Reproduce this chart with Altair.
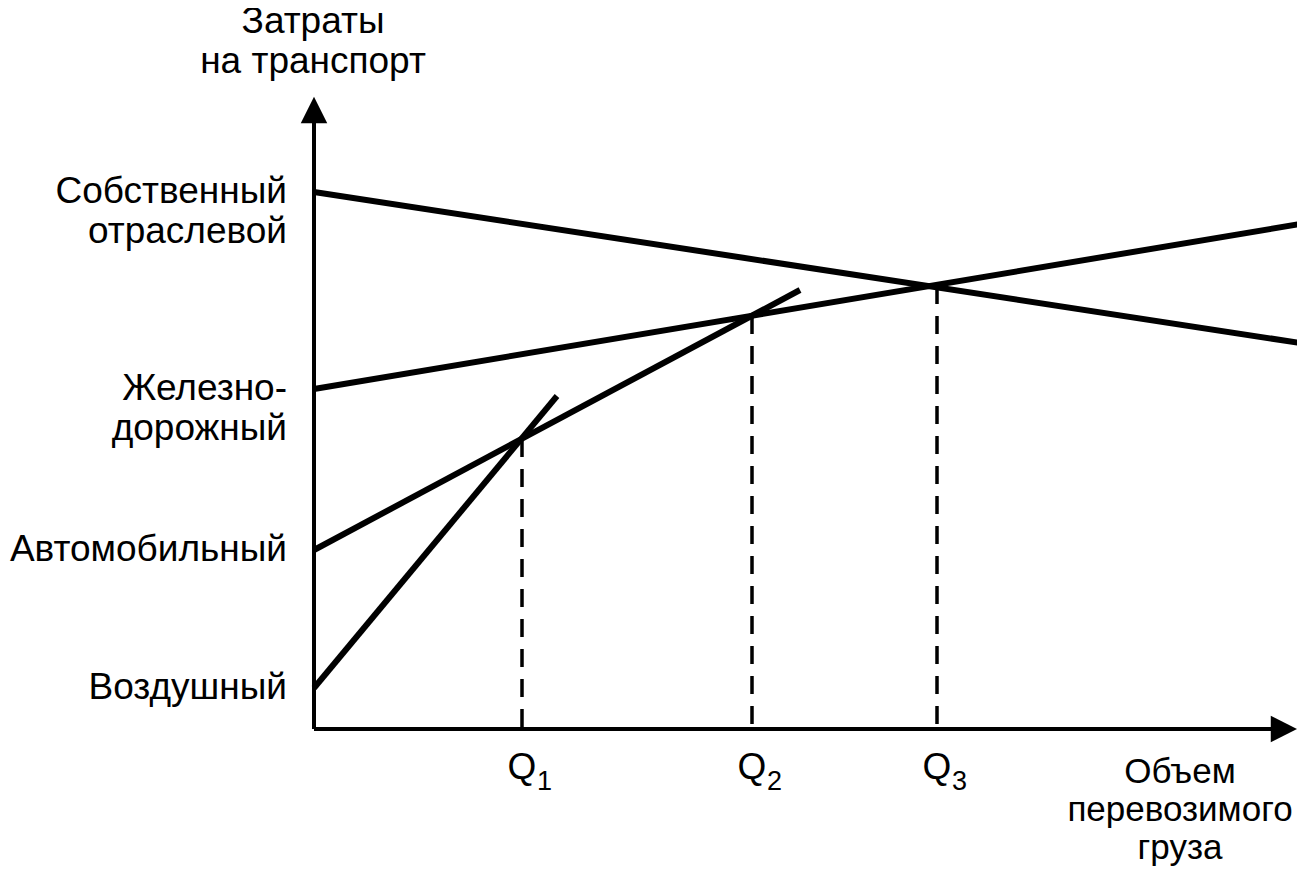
import altair as alt
import pandas as pd

# ---- data (arbitrary units) ----
series = ["Собственный отраслевой", "Железнодорожный", "Автомобильный", "Воздушный"]
series_labels = ["Собственный\nотраслевой", "Железно-\nдорожный", "Автомобильный", "Воздушный"]
x_start = [0.0, 0.0, 0.0, 0.0]
y_start = [53.7, 34.0, 17.9, 4.1]
x_end = [98.6, 98.6, 48.6, 24.3]
y_end = [38.6, 50.5, 43.9, 33.3]

q_names = ["Q", "Q", "Q"]
q_subs = ["1", "2", "3"]
q_x = [20.8, 43.8, 62.3]
q_cost = [29.0, 41.3, 44.3]

y_title = "Затраты\nна транспорт"
x_title = "Объем\nперевозимого\nгруза"

y_axis_top = 60.7   # base of the y arrow head
y_arrow = 61.9
x_axis_end = 96.0   # base of the x arrow head
x_arrow = 97.0

FONT = "Liberation Sans"

# ---- tables ----
lines_df = pd.DataFrame({
    "series": series + series,
    "x": x_start + x_end,
    "y": y_start + y_end,
})
labels_df = pd.DataFrame({"label": series_labels, "y": y_start})
q_df = pd.DataFrame({"q": q_names, "sub": q_subs, "x": q_x, "cost": q_cost,
                     "base": [0.0] * len(q_x)})
one = pd.DataFrame({"k": [0]})

xs = alt.Scale(domain=[-30.6, 98.3], nice=False, zero=False)
ys = alt.Scale(domain=[-14.1, 72.1], nice=False, zero=False)


def X(f):
    return alt.X(f, type="quantitative", scale=xs, axis=None)


def Y(f):
    return alt.Y(f, type="quantitative", scale=ys, axis=None)


lines = alt.Chart(lines_df).mark_line(color="black", strokeWidth=6).encode(
    x=X("x"), y=Y("y"), detail="series:N"
)

dashes = alt.Chart(q_df).mark_rule(color="black", strokeWidth=3.5, strokeDash=[18, 12]).encode(
    x=X("x"), y=Y("cost"), y2="base"
)

y_axis = alt.Chart(one).mark_rule(color="black", strokeWidth=4).encode(
    x=alt.X(datum=0, scale=xs, axis=None),
    y=alt.Y(datum=0, scale=ys, axis=None),
    y2=alt.Y2(datum=y_axis_top),
)
x_axis = alt.Chart(one).mark_rule(color="black", strokeWidth=4).encode(
    x=alt.X(datum=0, scale=xs, axis=None),
    x2=alt.X2(datum=x_axis_end),
    y=alt.Y(datum=0, scale=ys, axis=None),
)

y_head = alt.Chart(one).mark_point(
    shape="M0,-1L-1,1L1,1Z", filled=True, color="black", opacity=1, size=700, strokeWidth=0
).encode(
    x=alt.X(datum=0, scale=xs, axis=None),
    y=alt.Y(datum=y_arrow, scale=ys, axis=None),
)
x_head = alt.Chart(one).mark_point(
    shape="M1,0L-1,-1L-1,1Z", filled=True, color="black", opacity=1, size=700, strokeWidth=0
).encode(
    x=alt.X(datum=x_arrow, scale=xs, axis=None),
    y=alt.Y(datum=0, scale=ys, axis=None),
)

cat_labels = alt.Chart(labels_df).mark_text(
    font=FONT, fontSize=37, align="right", baseline="middle", lineBreak="\n",
    lineHeight=40, color="black"
).encode(
    x=alt.X(datum=-2.7, scale=xs, axis=None),
    y=Y("y"),
    text="label:N",
)

q_text = alt.Chart(q_df).mark_text(
    font=FONT, fontSize=37, align="center", baseline="alphabetic", dy=50, color="black"
).encode(
    x=X("x"), y=Y("base"), text="q:N"
)
q_sub_text = alt.Chart(q_df).mark_text(
    font=FONT, fontSize=27, align="left", baseline="alphabetic", dx=15, dy=61, color="black"
).encode(
    x=X("x"), y=Y("base"), text="sub:N"
)

y_title_t = alt.Chart(one).mark_text(
    font=FONT, fontSize=37, align="center", baseline="alphabetic", lineBreak="\n",
    lineHeight=40, color="black"
).encode(
    x=alt.X(datum=-0.1, scale=xs, axis=None),
    y=alt.Y(datum=69.6, scale=ys, axis=None),
    text=alt.value(y_title),
)
x_title_t = alt.Chart(one).mark_text(
    font=FONT, fontSize=35, align="center", baseline="alphabetic", lineBreak="\n",
    lineHeight=38, color="black"
).encode(
    x=alt.X(datum=86.6, scale=xs, axis=None),
    y=alt.Y(datum=-5.4, scale=ys, axis=None),
    text=alt.value(x_title),
)

chart = alt.layer(
    dashes, y_axis, x_axis, y_head, x_head, lines,
    cat_labels, q_text, q_sub_text, y_title_t, x_title_t,
).properties(
    width=1289, height=862, padding=0,
    autosize=alt.AutoSizeParams(type="none"),
    background="white",
).configure_view(stroke=None)

chart.save("out.html", embed_options={"renderer": "svg", "actions": False})
